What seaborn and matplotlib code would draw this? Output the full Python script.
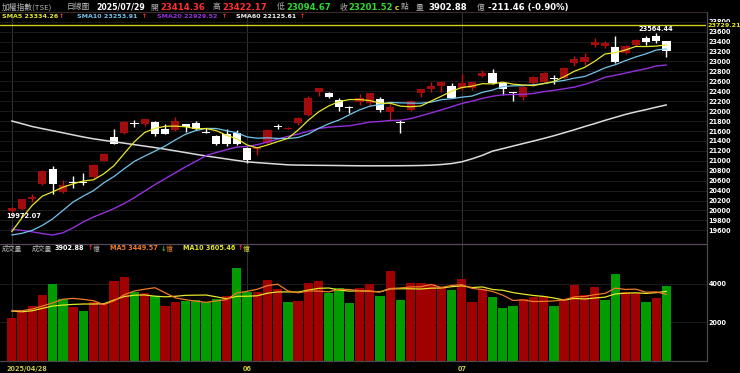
import matplotlib
matplotlib.use("Agg")
import matplotlib.pyplot as plt
import matplotlib.transforms as mtransforms
import numpy as np
import pandas as pd
import seaborn as sns

# ---------------- data ----------------
opens = [19980, 20024, 20230, 20533, 20829, 20366, 20570, 20565, 20680, 21002,
         21473, 21554, 21760, 21741, 21776, 21641, 21621, 21741, 21770, 21575,
         21500, 21534, 21554, 21252, 21232, 21353, 21695, 21650, 21755, 21923,
         22392, 22360, 22225, 22075, 22190, 22158, 22245, 21989, 21775, 22023,
         22360, 22446, 22513, 22513, 22472, 22460, 22714, 22762, 22561, 22380,
         22291, 22561, 22593, 22665, 22662, 22964, 22996, 23332, 23312, 23286,
         23165, 23330, 23467, 23513, 23414.36]
highs = [20080, 20240, 20326, 20810, 20896, 20614, 20694, 20749, 20930, 21160,
         21635, 21800, 21822, 21850, 21808, 21741, 21888, 21750, 21808, 21655,
         21520, 21635, 21621, 21284, 21285, 21640, 21735, 21680, 21888, 22305,
         22470, 22392, 22259, 22110, 22340, 22370, 22279, 22158, 21822, 22215,
         22450, 22581, 22590, 22561, 22742, 22590, 22829, 22849, 22570, 22385,
         22500, 22710, 22790, 22728, 22895, 23111, 23165, 23467, 23419, 23513,
         23330, 23447, 23513, 23564.44, 23422.17]
lows = [19972.07, 20010, 20177, 20520, 20326, 20350, 20447, 20513, 20640, 20990,
        21330, 21540, 21687, 21710, 21500, 21530, 21610, 21586, 21625, 21555,
        21310, 21305, 21320, 20950, 21117, 21340, 21641, 21640, 21721, 21910,
        22311, 22259, 22003, 21957, 22124, 22110, 21977, 21822, 21566, 22010,
        22291, 22392, 22392, 22260, 22426, 22426, 22694, 22541, 22325, 22204,
        22225, 22550, 22580, 22547, 22640, 22909, 22929, 23286, 23266, 22964,
        23150, 23312, 23332, 23366, 23094.67]
closes = [20050, 20225, 20265, 20795, 20533, 20520, 20567, 20555, 20916, 21131,
          21339, 21788, 21755, 21842, 21540, 21548, 21808, 21690, 21640, 21566,
          21333, 21345, 21338, 21016, 21270, 21621, 21690, 21662, 21856, 22259,
          22460, 22295, 22090, 22068, 22259, 22360, 22023, 22090, 21768, 22204,
          22440, 22513, 22581, 22271, 22573, 22580, 22762, 22561, 22446, 22372,
          22492, 22694, 22774, 22641, 22863, 23044, 23084, 23400, 23366, 22996,
          23312, 23440, 23390, 23412.98, 23201.52]
volumes = [2240, 2550, 2845, 3415, 3985, 3190, 2775, 2585, 3070, 2980,
           4155, 4365, 3550, 3535, 3360, 2845, 3050, 3085, 3155, 3050,
           3225, 3360, 4815, 3585, 3585, 4175, 3725, 3070, 3105, 4050,
           4140, 3535, 3760, 3015, 3760, 3970, 3380, 4640, 3155, 4020,
           4020, 3990, 3845, 3675, 4225, 3070, 3710, 3325, 2725, 2845,
           3205, 3295, 3360, 2845, 3155, 3930, 3415, 3830, 3170, 4520,
           3585, 3500, 3035, 3245, 3902.88]
sma5 = [19573, 19850, 20100, 20290, 20374, 20468, 20536, 20594, 20618, 20738,
        20902, 21146, 21386, 21571, 21653, 21695, 21699, 21686, 21645, 21650,
        21607, 21515, 21444, 21320, 21260, 21318, 21387, 21452, 21620, 21818,
        21985, 22106, 22192, 22234, 22234, 22214, 22160, 22160, 22100, 22089,
        22105, 22203, 22301, 22402, 22476, 22504, 22553, 22549, 22584, 22544,
        22527, 22513, 22556, 22595, 22693, 22803, 22881, 23006, 23151, 23178,
        23232, 23303, 23301, 23310, 23334.26]
sma10 = [19506, 19540, 19600, 19700, 19830, 20000, 20170, 20290, 20400, 20556,
         20685, 20841, 20990, 21095, 21195, 21298, 21422, 21536, 21608, 21652,
         21651, 21607, 21565, 21482, 21455, 21463, 21451, 21448, 21470, 21539,
         21652, 21747, 21822, 21927, 22026, 22100, 22133, 22176, 22167, 22162,
         22160, 22182, 22231, 22251, 22282, 22304, 22378, 22425, 22493, 22510,
         22515, 22533, 22553, 22590, 22619, 22665, 22697, 22781, 22873, 22935,
         23017, 23092, 23154, 23231, 23253.91]
sma20 = [19621, 19600, 19570, 19535, 19506, 19550, 19650, 19770, 19870, 19950,
         20040, 20140, 20260, 20390, 20520, 20640, 20760, 20880, 20990, 21104,
         21168, 21224, 21277, 21289, 21325, 21380, 21437, 21492, 21539, 21595,
         21651, 21677, 21693, 21705, 21741, 21781, 21792, 21812, 21818, 21850,
         21906, 21964, 22026, 22089, 22154, 22202, 22256, 22301, 22330, 22336,
         22337, 22357, 22392, 22420, 22450, 22485, 22538, 22603, 22683, 22723,
         22766, 22813, 22853, 22910, 22929.52]
sma60 = [21802, 21747, 21691, 21648, 21606, 21564, 21522, 21480, 21443, 21413,
         21384, 21355, 21325, 21296, 21267, 21234, 21200, 21166, 21131, 21097,
         21068, 21037, 21007, 20979, 20964, 20949, 20934, 20919, 20914, 20911,
         20909, 20907, 20905, 20902, 20900, 20899, 20899, 20900, 20901, 20903,
         20906, 20912, 20925, 20945, 20980, 21040, 21110, 21195, 21245, 21297,
         21348, 21398, 21450, 21505, 21565, 21625, 21690, 21750, 21815, 21875,
         21935, 21985, 22030, 22080, 22125.61]
vma5 = [2600, 2600, 2690, 2845, 3007, 3197, 3242, 3190, 3121, 2920,
        3113, 3431, 3624, 3717, 3793, 3531, 3268, 3175, 3099, 3037,
        3113, 3175, 3521, 3607, 3714, 3904, 3977, 3628, 3532, 3625,
        3618, 3580, 3718, 3700, 3642, 3608, 3577, 3753, 3781, 3833,
        3843, 3965, 3806, 3910, 3951, 3761, 3705, 3601, 3411, 3135,
        3162, 3079, 3086, 3110, 3172, 3317, 3341, 3435, 3500, 3773,
        3704, 3721, 3562, 3577, 3449.57]
vma10 = [2585, 2550, 2600, 2725, 2845, 2895, 2930, 2950, 2950, 2964,
         3155, 3337, 3407, 3419, 3357, 3322, 3350, 3400, 3408, 3415,
         3322, 3222, 3348, 3353, 3376, 3509, 3576, 3575, 3570, 3670,
         3761, 3779, 3673, 3616, 3634, 3613, 3579, 3736, 3741, 3738,
         3726, 3771, 3780, 3846, 3892, 3802, 3835, 3704, 3661, 3543,
         3462, 3392, 3344, 3261, 3154, 3240, 3210, 3261, 3305, 3473,
         3511, 3531, 3499, 3539, 3605.46]
ref_line = 23729.21
date_tick_idx = [0, 23, 44]
date_tick_labels = ["2025/04/28", "06", "07"]
price_ticks = list(range(19600, 23801, 200))
vol_ticks = [2000, 4000]
title_name = "加權指數(TSE)"
title_kind = "日線圖"
title_date = "2025/07/29"

# ---------------- styling ----------------
sns.set_theme(style="dark")
plt.rcParams["font.family"] = ["DejaVu Sans", "Noto Sans CJK TC"]
plt.rcParams["axes.unicode_minus"] = False

BG = "#000000"
RED_BODY = "#a30c0c"
RED_WICK = "#c81010"
WHITE = "#ffffff"
VOL_RED = "#a00000"
VOL_GREEN = "#009c00"
C_SMA5 = "#e6e62a"
C_SMA10 = "#72c4ec"
C_SMA20 = "#9430dc"
C_SMA60 = "#dcdcdc"
C_VMA5 = "#ee7a2a"
C_VMA10 = "#e6e62a"
GRID = "#1c1c1c"
VGRID = "#303030"
FRAME = "#4a4a4a"
GRAY_TXT = "#b4b4b4"
RED_TXT = "#ff3030"
GREEN_TXT = "#30d830"
DATE_C = "#c8c83c"

W, H = 740, 373
fig = plt.figure(figsize=(W / 100, H / 100), dpi=100, facecolor=BG)

def fx(px):
    return px / W

def fy(py):
    return 1 - py / H

X0, X1 = 0.0, 707.0
PT, PB = 12.3, 244.0
VT, VB = 244.0, 361.0
axp = fig.add_axes([fx(X0), fy(PB), (X1 - X0) / W, (PB - PT) / H])
axv = fig.add_axes([fx(X0), fy(VB), (X1 - X0) / W, (VB - VT) / H])

o = np.array(opens, float)
h = np.array(highs, float)
l = np.array(lows, float)
c = np.array(closes, float)
v = np.array(volumes, float)
n = len(c)
idx = np.arange(n)

step = 10.23
x_first = 11.7
xlim = ((X0 - x_first) / step, (X1 - x_first) / step)
px_per_price = 0.04966
p_top = 23600 + (31.7 - PT) / px_per_price
p_bot = 23600 - (PB - 31.7) / px_per_price

for ax in (axp, axv):
    ax.set_facecolor(BG)
    ax.set_xlim(*xlim)
    for s in ax.spines.values():
        s.set_visible(False)
    ax.tick_params(axis="x", bottom=False, labelbottom=False)
    for xi in date_tick_idx:
        ax.axvline(xi, color=VGRID, lw=0.8, zorder=0.5)

# ---------------- price panel ----------------
axp.set_ylim(p_bot, p_top)
axp.set_yticks(price_ticks)
axp.grid(axis="y", color=GRID, lw=0.7)
axp.grid(axis="x", visible=False)
axp.yaxis.tick_right()
axp.tick_params(axis="y", length=0, pad=1.2, labelsize=4.7, labelcolor="white")
for lab in axp.get_yticklabels():
    lab.set_fontweight("bold")

is_red = c > o
wick_col = np.where(is_red, RED_WICK, WHITE)
axp.vlines(idx, l, h, colors=wick_col, lw=1.0, zorder=3)
mid = (o + c) / 2
bh = np.maximum(np.abs(c - o), 24)
body_col = np.where(is_red, RED_BODY, WHITE)
axp.bar(idx, bh, bottom=mid - bh / 2, width=0.8, color=body_col, linewidth=0, zorder=4)

for arr, col, lw in ((sma60, C_SMA60, 1.1), (sma20, C_SMA20, 1.0),
                     (sma10, C_SMA10, 0.9), (sma5, C_SMA5, 0.9)):
    sns.lineplot(x=idx, y=arr, ax=axp, color=col, linewidth=lw, legend=False, zorder=5)
axp.set_xlabel("")
axp.set_ylabel("")

axp.axhline(ref_line, color="#d0d020", lw=1.0, zorder=2)
axp.text(1.0, ref_line, f"{ref_line:.2f}",
         transform=mtransforms.blended_transform_factory(axp.transAxes, axp.transData),
         ha="left", va="center", color="#e8e820", fontsize=4.6, fontweight="bold",
         bbox=dict(boxstyle="square,pad=0.08", fc=BG, ec="none"), clip_on=False, zorder=10)

imax = int(np.argmax(h))
imin = int(np.argmin(l))
axp.annotate(f"{h[imax]:.2f}", (imax, h[imax]), xytext=(0, 0.8), textcoords="offset points",
             ha="center", va="bottom", color="white", fontsize=4.8, fontweight="bold", zorder=10)
axp.annotate(f"{l[imin]:.2f}", (imin, l[imin]), xytext=(-3.6, -1.0), textcoords="offset points",
             ha="left", va="top", color="white", fontsize=4.8, fontweight="bold", zorder=10)

# ---------------- volume panel ----------------
prev = np.concatenate([[o[0]], c[:-1]])
vdir = np.where(c >= prev, "up", "down")
vdf = pd.DataFrame({"i": idx, "vol": v, "dir": vdir})
sns.barplot(data=vdf, x="i", y="vol", hue="dir", palette={"up": VOL_RED, "down": VOL_GREEN},
            native_scale=True, dodge=False, width=0.91, saturation=1, errorbar=None,
            legend=False, linewidth=0, ax=axv, zorder=3)
sns.lineplot(x=idx, y=vma10, ax=axv, color=C_VMA10, linewidth=0.9, legend=False, zorder=5)
sns.lineplot(x=idx, y=vma5, ax=axv, color=C_VMA5, linewidth=0.9, legend=False, zorder=6)
axv.set_xlim(*xlim)
axv.set_ylim(0, 6057)
axv.set_yticks(vol_ticks)
axv.grid(axis="y", color=GRID, lw=0.7)
axv.grid(axis="x", visible=False)
axv.yaxis.tick_right()
axv.tick_params(axis="y", length=0, pad=1.2, labelsize=4.7, labelcolor="white")
axv.tick_params(axis="x", bottom=False, labelbottom=False)
for lab in axv.get_yticklabels():
    lab.set_fontweight("bold")
axv.set_xlabel("")
axv.set_ylabel("")

# frame lines
fig.add_artist(plt.Line2D([fx(0), fx(X1)], [fy(PT), fy(PT)], color="#3a2a2a", lw=0.8))
fig.add_artist(plt.Line2D([fx(0), fx(X1)], [fy(PB), fy(PB)], color="#55485a", lw=0.9))
fig.add_artist(plt.Line2D([fx(0), fx(X1)], [fy(VB), fy(VB)], color=FRAME, lw=0.9))
fig.add_artist(plt.Line2D([fx(X1), fx(X1)], [fy(PT), fy(VB)], color=FRAME, lw=0.9))

# date labels
for xi, lab in zip(date_tick_idx, date_tick_labels):
    xpix = x_first + step * xi
    if xi == 0:
        fig.text(fx(xpix - 5), fy(369.3), lab, ha="left", va="center", color=DATE_C,
                 fontsize=4.7, fontweight="bold")
    else:
        fig.text(fx(xpix), fy(369.3), lab, ha="center", va="center", color=DATE_C,
                 fontsize=4.7, fontweight="bold")

# ---------------- header texts ----------------
def T(xp, yp, s, col, size, bold=True):
    fig.text(fx(xp), fy(yp), s, ha="left", va="center", color=col, fontsize=size,
             fontweight="bold" if bold else "normal",
             family=["DejaVu Sans", "Noto Sans CJK TC"])

def CJ(xp, yp, s, col, size):
    fig.text(fx(xp), fy(yp), s, ha="left", va="center", color=col, fontsize=size,
             family=["Noto Sans CJK TC", "DejaVu Sans"])

chg = c[-1] - c[-2]
pct = chg / c[-2] * 100
y1 = 7.5
NUM = 6.1
CJK = 5.6
CJ(1.7, y1, title_name, GRAY_TXT, CJK)
CJ(66.7, y1, title_kind, GRAY_TXT, CJK)
T(96.7, y1, title_date, "white", 5.6)
CJ(150, y1, "開", GRAY_TXT, CJK)
T(160, y1, f"{o[-1]:.2f}", RED_TXT, NUM)
CJ(213, y1, "高", GRAY_TXT, CJK)
T(222.7, y1, f"{h[-1]:.2f}", RED_TXT, NUM)
CJ(276.7, y1, "低", GRAY_TXT, CJK)
T(286.7, y1, f"{l[-1]:.2f}", GREEN_TXT, NUM)
CJ(340, y1, "收", GRAY_TXT, CJK)
T(348.5, y1, f"{c[-1]:.2f}", GREEN_TXT, NUM)
T(394.5, y1, "c", C_SMA5, 5.2)
CJ(400.5, y1, "點", GRAY_TXT, CJK)
CJ(415.7, y1, "量", GRAY_TXT, CJK)
T(428, y1, f"{v[-1]:.2f}", "white", NUM)
CJ(477, y1, "億", GRAY_TXT, CJK)
T(488, y1, f"{chg:.2f} ({pct:.2f}%)", "white", NUM)

def arrow(arr):
    return ("↑", RED_TXT) if arr[-1] >= arr[-2] else ("↓", GREEN_TXT)

y2 = 16.5
for xs, name, arr, col, xa in ((1.7, "SMA5", sma5, C_SMA5, 58.5),
                               (77.3, "SMA10", sma10, C_SMA10, 141.5),
                               (156.7, "SMA20", sma20, C_SMA20, 221.5),
                               (236, "SMA60", sma60, "#f0f0f0", 299.5)):
    T(xs, y2, f"{name} {arr[-1]:.2f}", col, 4.6)
    a, ac = arrow(arr)
    T(xa, y2, a, ac, 4.6)

y3 = 248.5
CJ(1.7, y3, "成交量", GRAY_TXT, 4.9)
CJ(31.7, y3, "成交量", GRAY_TXT, 4.9)
T(55, y3, f"{v[-1]:.2f}", "white", 4.7)
a, ac = arrow(v)
T(87.5, y3, a, ac, 4.7)
CJ(92.5, y3, "億", GRAY_TXT, 4.9)
T(110, y3, f"MA5 {vma5[-1]:.2f}", C_VMA5, 4.7)
a, ac = arrow(vma5)
T(160.5, y3, a, ac, 4.7)
CJ(165.5, y3, "億", C_VMA5, 4.9)
T(183, y3, f"MA10 {vma10[-1]:.2f}", C_VMA10, 4.7)
a, ac = arrow(vma10)
T(238, y3, a, ac, 4.7)
CJ(242.5, y3, "億", C_VMA10, 4.9)

fig.savefig("out.png", dpi=100, facecolor=BG)
